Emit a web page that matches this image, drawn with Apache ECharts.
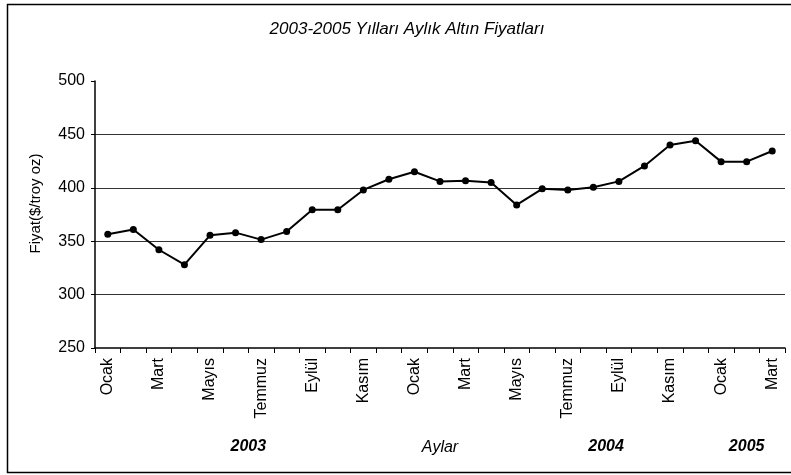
<!DOCTYPE html>
<html>
<head>
<meta charset="utf-8">
<script src="https://cdn.jsdelivr.net/npm/echarts@6/dist/echarts.min.js"></script>
<style>
  html, body { margin: 0; padding: 0; background: #fff; }
  #chart { width: 791px; height: 475px; }
</style>
</head>
<body>
<div id="chart"></div>
<script>
const months = ['Ocak', 'Şubat', 'Mart', 'Nisan', 'Mayıs', 'Haziran', 'Temmuz', 'Ağustos', 'Eylül', 'Ekim', 'Kasım', 'Aralık',
                'Ocak', 'Şubat', 'Mart', 'Nisan', 'Mayıs', 'Haziran', 'Temmuz', 'Ağustos', 'Eylül', 'Ekim', 'Kasım', 'Aralık',
                'Ocak', 'Şubat', 'Mart'];
const prices = [356.5, 361, 342, 328, 355.5, 358, 351.5, 359, 379.5, 379.5, 398, 408,
                415, 406, 406.5, 405, 384, 399, 398, 400.5, 406, 420.5, 440, 444,
                424.5, 424.5, 434.5];
const yearLabels = ['2003', '2004', '2005'];
// category index where each year label is centred
const yearPos = [5.5, 19.5, 25];

const chart = echarts.init(document.getElementById('chart'));
const font = 'Liberation Sans, Arial, sans-serif';
const fs = 16;

chart.setOption({
    animation: false,
    backgroundColor: '#fff',
    title: {
        text: '2003-2005 Yılları Aylık Altın Fiyatları',
        left: 402,
        textAlign: 'center',
        top: 16,
        textStyle: { fontFamily: font, fontSize: 17, fontStyle: 'italic', fontWeight: 'normal', color: '#000' }
    },
    grid: { left: 95, right: 6, top: 81, bottom: 127 },
    xAxis: {
        type: 'category',
        data: months,
        boundaryGap: true,
        name: 'Aylar',
        nameLocation: 'middle',
        nameGap: 92,
        nameTextStyle: { fontFamily: font, fontSize: fs, fontStyle: 'italic', color: '#000' },
        axisLine: { lineStyle: { color: '#000', width: 1.5 } },
        axisTick: { show: true, interval: 0, length: 5, lineStyle: { color: '#000' } },
        axisLabel: {
            interval: 1,
            rotate: 90,
            margin: 10,
            fontFamily: font,
            fontSize: fs,
            color: '#000'
        },
        splitLine: { show: false }
    },
    yAxis: {
        type: 'value',
        min: 250,
        max: 500,
        interval: 50,
        name: 'Fiyat($/troy oz)',
        nameLocation: 'middle',
        nameGap: 52,
        nameTextStyle: { fontFamily: font, fontSize: 15, color: '#000', padding: [0, 0, 0, 22] },
        axisLine: { show: true, lineStyle: { color: '#000', width: 1.5 } },
        axisTick: { show: true, length: 4, lineStyle: { color: '#000' } },
        axisLabel: { fontFamily: font, fontSize: fs, color: '#000', margin: 10 },
        splitLine: {
            show: true,
            // the 250 and 500 levels have no grid line in the original
            lineStyle: { color: ['#fff', '#333', '#333', '#333', '#333', '#fff'], width: 1 }
        }
    },
    series: [{
        type: 'line',
        data: prices,
        symbol: 'circle',
        symbolSize: 7,
        lineStyle: { color: '#000', width: 2 },
        itemStyle: { color: '#000' }
    }]
});

const yearY = chart.convertToPixel({ yAxisIndex: 0 }, 250) + 99;
const x0 = chart.convertToPixel({ xAxisIndex: 0 }, 0);
const x1 = chart.convertToPixel({ xAxisIndex: 0 }, 1);
const step = x1 - x0;

const graphics = yearLabels.map((label, i) => ({
    type: 'text',
    x: x0 + yearPos[i] * step,
    y: yearY,
    style: {
        text: label,
        fontFamily: font,
        fontSize: fs,
        fontWeight: 'bold',
        fontStyle: 'italic',
        fill: '#000',
        align: 'center',
        verticalAlign: 'middle'
    }
}));

graphics.push({
    type: 'rect',
    shape: { x: 7.5, y: 4.5, width: 790, height: 468 },
    style: { fill: 'none', stroke: '#000', lineWidth: 1.5 },
    silent: true
});

chart.setOption({ graphic: graphics });
</script>
</body>
</html>
